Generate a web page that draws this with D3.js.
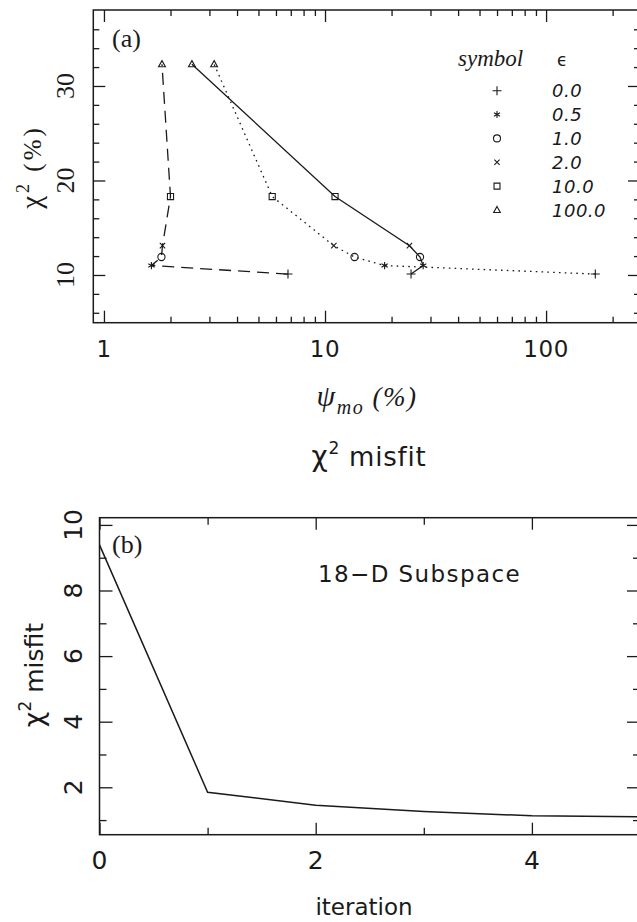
<!DOCTYPE html>
<html>
<head>
<meta charset="utf-8">
<script src="https://cdn.jsdelivr.net/npm/d3@7"></script>
<style>
  body { margin: 0; background: #fff; }
  svg { display: block; }
  .serif { font-family: "Liberation Serif", "DejaVu Serif", serif; }
  .sans { font-family: "DejaVu Sans", sans-serif; }
</style>
</head>
<body>
<div class="graph"></div>
<script>
// panel (a): chi^2 vs psi_mo for three runs, one point per epsilon
const epsLabels = ["0.0", "0.5", "1.0", "2.0", "10.0", "100.0"];
const symbolNames = ["plus", "star", "circle", "cross", "square", "triangle"];
const chi2 = [10.1, 11.0, 11.9, 13.1, 18.3, 32.3];
const psiDashed = [6.8, 1.64, 1.82, 1.84, 2.0, 1.83];
const psiSolid = [24.5, 27.8, 26.9, 24.1, 11.1, 2.50];
const psiDotted = [167, 18.6, 13.6, 10.96, 5.77, 3.15];
const xTicksA = [1, 10, 100];
const xMinorA = [2, 3, 4, 5, 6, 7, 8, 9, 20, 30, 40, 50, 60, 70, 80, 90, 200];
const yTicksA = [10, 20, 30];
const yMinorA = [6, 8, 12, 14, 16, 18, 22, 24, 26, 28, 32, 34, 36];

// panel (b): misfit per iteration
const iterations = [0, 1, 2, 3, 4, 5];
const misfit = [9.39, 1.85, 1.45, 1.26, 1.13, 1.10];
const xTicksB = [0, 2, 4];
const xMinorB = [1, 3, 5];
const yTicksB = [2, 4, 6, 8, 10];
const yMinorB = [1, 3, 5, 7, 9];

const W = 637, H = 922;
const ink = "#1a1a1a";

const svg = d3.select(".graph").append("svg")
    .attr("width", W)
    .attr("height", H);

function symbolPath(name, r) {
    const p = d3.path();
    if (name === "plus") {
        p.moveTo(-r, 0); p.lineTo(r, 0);
        p.moveTo(0, -r); p.lineTo(0, r);
    } else if (name === "star") {
        for (let k = 0; k < 3; k++) {
            const a = Math.PI / 2 + k * Math.PI / 3;
            p.moveTo(r * Math.cos(a), r * Math.sin(a));
            p.lineTo(-r * Math.cos(a), -r * Math.sin(a));
        }
    } else if (name === "circle") {
        p.arc(0, 0, r, 0, 2 * Math.PI);
    } else if (name === "cross") {
        const q = r * 0.75;
        p.moveTo(-q, -q); p.lineTo(q, q);
        p.moveTo(-q, q); p.lineTo(q, -q);
    } else if (name === "square") {
        p.rect(-r * 0.85, -r * 0.85, r * 1.7, r * 1.7);
    } else if (name === "triangle") {
        p.moveTo(0, -r); p.lineTo(r * 0.95, r * 0.7); p.lineTo(-r * 0.95, r * 0.7); p.closePath();
    }
    return p.toString();
}

function tickSet(g, axisFn, scale, values, size, transform) {
    g.append("g")
        .attr("transform", transform)
        .call(axisFn(scale).tickValues(values).tickSizeInner(-size).tickSizeOuter(0).tickFormat(""))
        .call(s => s.select(".domain").remove())
        .call(s => s.selectAll("line").attr("stroke", ink).attr("stroke-width", 1.3));
}

function frame(g, x0, y0, x1, y1) {
    g.append("rect")
        .attr("x", x0).attr("y", y0)
        .attr("width", x1 - x0).attr("height", y1 - y0)
        .attr("fill", "none")
        .attr("stroke", ink)
        .attr("stroke-width", 1.5);
}

// ---------- panel (a) ----------
const A = { left: 93.3, top: 10, right: 640, bottom: 322.7 };
const xa = d3.scaleLog().domain([0.895, 266]).range([A.left, A.right]);
const ya = d3.scaleLinear().domain([4.95, 38.04]).range([A.bottom, A.top]);
const ga = svg.append("g");

tickSet(ga, d3.axisBottom, xa, xTicksA, 12, `translate(0,${A.bottom})`);
tickSet(ga, d3.axisBottom, xa, xMinorA, 6, `translate(0,${A.bottom})`);
tickSet(ga, d3.axisTop, xa, xTicksA, 12, `translate(0,${A.top})`);
tickSet(ga, d3.axisTop, xa, xMinorA, 6, `translate(0,${A.top})`);
tickSet(ga, d3.axisLeft, ya, yTicksA, 12, `translate(${A.left},0)`);
tickSet(ga, d3.axisLeft, ya, yMinorA, 6, `translate(${A.left},0)`);
tickSet(ga, d3.axisRight, ya, yTicksA, 12, `translate(${A.right},0)`);
tickSet(ga, d3.axisRight, ya, yMinorA, 6, `translate(${A.right},0)`);
frame(ga, A.left, A.top, A.right, A.bottom);

ga.selectAll(".xlab").data(xTicksA).enter().append("text")
    .attr("class", "sans")
    .attr("x", d => xa(d))
    .attr("y", 357)
    .attr("text-anchor", "middle")
    .attr("font-size", 23)
    .attr("letter-spacing", 0.5)
    .attr("fill", ink)
    .text(d => d);

ga.selectAll(".ylab").data(yTicksA).enter().append("text")
    .attr("class", "serif")
    .attr("transform", d => `translate(74,${ya(d)}) rotate(-90)`)
    .attr("text-anchor", "middle")
    .attr("font-size", 26)
    .attr("fill", ink)
    .text(d => d);

const ylabA = ga.append("text")
    .attr("class", "serif")
    .attr("transform", "translate(41,167) rotate(-90)")
    .attr("text-anchor", "middle")
    .attr("font-size", 25)
    .attr("letter-spacing", 3)
    .attr("fill", ink);
ylabA.append("tspan").attr("font-size", 29).text("χ");
ylabA.append("tspan").attr("font-size", 18).attr("dy", -12).text("2");
ylabA.append("tspan").attr("dy", 12).text(" (%)");

const xlabA = ga.append("text")
    .attr("class", "serif")
    .attr("x", 367).attr("y", 406)
    .attr("text-anchor", "middle")
    .attr("font-size", 27)
    .attr("font-style", "italic")
    .attr("letter-spacing", 1.5)
    .attr("fill", ink);
xlabA.append("tspan").attr("font-size", 30).text("ψ");
xlabA.append("tspan").attr("font-size", 20).attr("dy", 8).text("mo");
xlabA.append("tspan").attr("dy", -8).text(" (%)");

const titleA = ga.append("text")
    .attr("class", "sans")
    .attr("x", 369).attr("y", 466)
    .attr("text-anchor", "middle")
    .attr("font-size", 26)
    .attr("letter-spacing", 0.8)
    .attr("fill", ink);
titleA.append("tspan").attr("font-size", 28).text("χ");
titleA.append("tspan").attr("font-size", 17).attr("dy", -12).text("2");
titleA.append("tspan").attr("dy", 12).text(" misfit");

ga.append("text")
    .attr("class", "serif")
    .attr("x", 112).attr("y", 47)
    .attr("font-size", 26)
    .attr("fill", ink)
    .text("(a)");

const series = [
    { psi: psiSolid, dash: null },
    { psi: psiDashed, dash: "12,7" },
    { psi: psiDotted, dash: "1.6,4.2" }
];
const idx = d3.range(chi2.length);

series.forEach(function (s) {
    const line = d3.line()
        .x(i => xa(s.psi[i]))
        .y(i => ya(chi2[i]));
    ga.append("path")
        .datum(idx)
        .attr("d", line)
        .attr("fill", "none")
        .attr("stroke", ink)
        .attr("stroke-width", 1.3)
        .attr("stroke-dasharray", s.dash);
    ga.selectAll(null).data(idx).enter().append("path")
        .attr("transform", i => `translate(${xa(s.psi[i])},${ya(chi2[i])})`)
        .attr("d", i => symbolPath(symbolNames[i], symbolNames[i] === "plus" ? 4.5 : 3.6))
        .attr("fill", "none")
        .attr("stroke", ink)
        .attr("stroke-width", 1.1);
});

// legend
const ly = d3.scaleLinear().domain([0, epsLabels.length - 1]).range([90.7, 210]);
ga.append("text")
    .attr("class", "serif")
    .attr("x", 458).attr("y", 66)
    .attr("font-size", 23)
    .attr("font-style", "italic")
    .attr("fill", ink)
    .text("symbol");
ga.append("text")
    .attr("class", "sans")
    .attr("x", 557).attr("y", 66)
    .attr("font-size", 17)
    .attr("fill", ink)
    .text("ϵ");
ga.selectAll(".legsym").data(idx).enter().append("path")
    .attr("transform", i => `translate(497,${ly(i)})`)
    .attr("d", i => symbolPath(symbolNames[i], symbolNames[i] === "plus" ? 4.5 : 3.5))
    .attr("fill", "none")
    .attr("stroke", ink)
    .attr("stroke-width", 1.1);
ga.selectAll(".legtxt").data(idx).enter().append("text")
    .attr("class", "sans")
    .attr("x", 552)
    .attr("y", i => ly(i) + 6.5)
    .attr("font-size", 18)
    .attr("font-style", "italic")
    .attr("letter-spacing", 0.5)
    .attr("fill", ink)
    .text(i => epsLabels[i]);

// ---------- panel (b) ----------
const B = { left: 99.5, top: 517.7, right: 640, bottom: 834.7 };
const xb = d3.scaleLinear().domain([0, 5]).range([B.left, B.right]);
const yb = d3.scaleLinear().domain([0.554, 10.22]).range([B.bottom, B.top]);
const gb = svg.append("g");

tickSet(gb, d3.axisBottom, xb, xTicksB, 12, `translate(0,${B.bottom})`);
tickSet(gb, d3.axisBottom, xb, xMinorB, 7, `translate(0,${B.bottom})`);
tickSet(gb, d3.axisTop, xb, xTicksB, 12, `translate(0,${B.top})`);
tickSet(gb, d3.axisTop, xb, xMinorB, 7, `translate(0,${B.top})`);
tickSet(gb, d3.axisLeft, yb, yTicksB, 13, `translate(${B.left},0)`);
tickSet(gb, d3.axisLeft, yb, yMinorB, 7, `translate(${B.left},0)`);
tickSet(gb, d3.axisRight, yb, yTicksB, 13, `translate(${B.right},0)`);
tickSet(gb, d3.axisRight, yb, yMinorB, 7, `translate(${B.right},0)`);
frame(gb, B.left, B.top, B.right, B.bottom);

gb.append("path")
    .datum(iterations)
    .attr("d", d3.line().x(d => xb(d)).y((d, i) => yb(misfit[i])))
    .attr("fill", "none")
    .attr("stroke", ink)
    .attr("stroke-width", 1.5);

gb.selectAll(".xlab").data(xTicksB).enter().append("text")
    .attr("class", "sans")
    .attr("x", d => xb(d))
    .attr("y", 869)
    .attr("text-anchor", "middle")
    .attr("font-size", 25)
    .attr("fill", ink)
    .text(d => d);

gb.selectAll(".ylab").data(yTicksB).enter().append("text")
    .attr("class", "sans")
    .attr("transform", d => `translate(81.5,${yb(d)}) rotate(-90)`)
    .attr("text-anchor", "middle")
    .attr("font-size", 25)
    .attr("fill", ink)
    .text(d => d);

const ylabB = gb.append("text")
    .attr("class", "sans")
    .attr("transform", "translate(43,675) rotate(-90)")
    .attr("text-anchor", "middle")
    .attr("font-size", 25)
    .attr("fill", ink);
ylabB.append("tspan").attr("font-size", 27).text("χ");
ylabB.append("tspan").attr("font-size", 17).attr("dy", -12).text("2");
ylabB.append("tspan").attr("dy", 12).text(" misfit");

gb.append("text")
    .attr("class", "serif")
    .attr("x", 112).attr("y", 553)
    .attr("font-size", 26)
    .attr("fill", ink)
    .text("(b)");

gb.append("text")
    .attr("class", "sans")
    .attr("x", 318).attr("y", 582)
    .attr("font-size", 23)
    .attr("letter-spacing", 1.4)
    .attr("fill", ink)
    .text("18−D Subspace");

gb.append("text")
    .attr("class", "sans")
    .attr("x", 364).attr("y", 915)
    .attr("text-anchor", "middle")
    .attr("font-size", 23)
    .attr("fill", ink)
    .text("iteration");
</script>
</body>
</html>
